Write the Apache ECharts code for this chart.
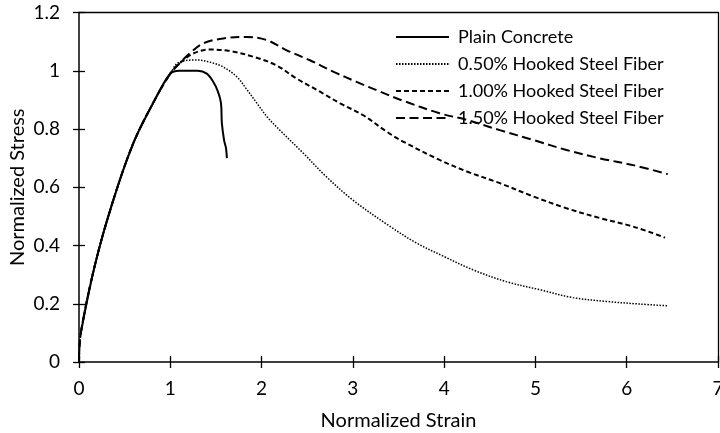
<!DOCTYPE html>
<html>
<head>
<meta charset="utf-8">
<script src="https://cdn.jsdelivr.net/npm/echarts@6/dist/echarts.min.js"></script>
<style>html,body{margin:0;padding:0;background:#fff}#c{width:720px;height:433px}</style>
</head>
<body>
<div id="c"></div>
<script>
var seriesNames = ['Plain Concrete', '0.50% Hooked Steel Fiber', '1.00% Hooked Steel Fiber', '1.50% Hooked Steel Fiber'];

var plainStrain = [0.02, 0.18, 0.38, 0.6, 0.83, 1.0, 1.1, 1.3, 1.4, 1.47, 1.52, 1.555, 1.565, 1.59, 1.61, 1.62];
var plainStress = [0.1, 0.34, 0.56, 0.755, 0.9, 0.99, 1.0, 1.0, 0.99, 0.962, 0.93, 0.89, 0.82, 0.76, 0.735, 0.70];

var f050Strain = [0, 0.02, 0.18, 0.38, 0.6, 0.83, 1.0, 1.1, 1.3, 1.45, 1.58, 1.73, 1.84, 1.95, 2.06, 2.2, 2.46, 2.71, 3.0, 3.41, 3.7, 4.0, 4.32, 4.68, 5.05, 5.41, 5.78, 6.14, 6.45];
var f050Stress = [0, 0.1, 0.34, 0.56, 0.755, 0.9, 0.99, 1.03, 1.037, 1.028, 1.013, 0.979, 0.935, 0.888, 0.842, 0.796, 0.716, 0.636, 0.556, 0.465, 0.408, 0.362, 0.316, 0.276, 0.248, 0.221, 0.208, 0.199, 0.193];

var f100Strain = [0, 0.02, 0.18, 0.38, 0.6, 0.83, 1.0, 1.1, 1.25, 1.43, 1.65, 1.91, 2.16, 2.38, 2.64, 2.86, 3.11, 3.37, 3.55, 3.95, 4.25, 4.61, 4.98, 5.34, 5.71, 6.07, 6.42];
var f100Stress = [0, 0.1, 0.34, 0.56, 0.755, 0.9, 0.99, 1.025, 1.059, 1.073, 1.068, 1.048, 1.019, 0.974, 0.928, 0.888, 0.848, 0.791, 0.757, 0.694, 0.654, 0.614, 0.568, 0.528, 0.494, 0.465, 0.427];

var f150Strain = [0, 0.02, 0.18, 0.38, 0.6, 0.83, 1.0, 1.1, 1.215, 1.36, 1.58, 1.84, 2.06, 2.27, 2.53, 2.79, 3.04, 3.3, 3.55, 3.95, 4.25, 4.61, 4.98, 5.34, 5.71, 6.07, 6.45];
var f150Stress = [0, 0.1, 0.34, 0.56, 0.755, 0.9, 0.99, 1.025, 1.06, 1.094, 1.111, 1.116, 1.105, 1.071, 1.036, 0.996, 0.962, 0.928, 0.897, 0.854, 0.831, 0.796, 0.762, 0.728, 0.699, 0.676, 0.645];

var xTicks = [0, 1, 2, 3, 4, 5, 6, 7];
var yTicks = [0, 0.2, 0.4, 0.6, 0.8, 1, 1.2];

function pairs(xs, ys) { return xs.map(function (x, i) { return [x, ys[i]]; }); }

var FONT = 'Lato';
var FS = 19;
var chart = echarts.init(document.getElementById('c'), null, { renderer: 'canvas' });
var gridBox = { left: 79, right: 2, top: 12.5, bottom: 71, outerBoundsMode: 'none', containLabel: false };
var xMin = xTicks[0], xMax = xTicks[xTicks.length - 1];
var yMin = yTicks[0], yMax = yTicks[yTicks.length - 1];

function mkSeries(name, data, dash, width) {
  return {
    name: name, type: 'line', data: data, xAxisIndex: 0, yAxisIndex: 0,
    showSymbol: false, symbol: 'none', smooth: 0.35, animation: false,
    itemStyle: { color: '#000' },
    lineStyle: { color: '#000', width: width, type: dash }
  };
}
function blankAxis(extra) {
  return Object.assign({
    type: 'value', axisLabel: { show: false }, splitLine: { show: false },
    axisLine: { show: false }, axisTick: { show: false }
  }, extra);
}
var tickStyle = { color: '#000', width: 1.3 };

chart.setOption({
  animation: false,
  grid: [
    Object.assign({ show: false }, gridBox),
    Object.assign({ show: false }, gridBox),
    Object.assign({ show: false }, gridBox)
  ],
  legend: {
    orient: 'vertical', left: 390, top: 22, itemWidth: 53, itemHeight: 14, itemGap: 7,
    data: seriesNames,
    itemStyle: { opacity: 0 },
    textStyle: { fontFamily: FONT, fontSize: 18, color: '#000', lineHeight: 20, padding: [0, 0, 0, 4] }
  },
  xAxis: [
    {
      gridIndex: 0, type: 'value', min: xMin, max: xMax, interval: 1,
      name: 'Normalized Strain', nameLocation: 'middle', nameGap: 49, nameMoveOverlap: false,
      nameTextStyle: { fontFamily: FONT, fontSize: 20, color: '#000' },
      axisLine: { show: true, onZero: false, lineStyle: { color: '#000', width: 1.5 } },
      axisTick: { show: true, inside: false, length: 6, lineStyle: tickStyle },
      axisLabel: { fontFamily: FONT, fontSize: FS, color: '#000', margin: 17 },
      splitLine: { show: false }
    },
    blankAxis({ gridIndex: 1, min: xMin, max: xMax, interval: 1, position: 'bottom',
      axisTick: { show: true, inside: true, length: 6, lineStyle: tickStyle } }),
    blankAxis({ gridIndex: 2, min: xMin, max: xMax, interval: 1, position: 'top',
      axisLine: { show: true, onZero: false, lineStyle: { color: '#000', width: 1.3 } } })
  ],
  yAxis: [
    {
      gridIndex: 0, type: 'value', min: yMin, max: yMax, interval: 0.2,
      name: 'Normalized Stress', nameLocation: 'middle', nameGap: 51, nameMoveOverlap: false,
      nameTextStyle: { fontFamily: FONT, fontSize: 20, color: '#000' },
      axisLine: { show: true, onZero: false, lineStyle: { color: '#000', width: 1.5 } },
      axisTick: { show: true, inside: false, length: 6, lineStyle: tickStyle },
      axisLabel: { fontFamily: FONT, fontSize: FS, color: '#000', margin: 19 },
      splitLine: { show: false }
    },
    blankAxis({ gridIndex: 1, min: yMin, max: yMax, interval: 0.2, position: 'left',
      axisTick: { show: true, inside: true, length: 6, lineStyle: tickStyle } }),
    blankAxis({ gridIndex: 2, min: yMin, max: yMax, interval: 0.2, position: 'right',
      axisLine: { show: true, onZero: false, lineStyle: { color: '#000', width: 1.3 } } })
  ],
  series: [
    mkSeries(seriesNames[0], pairs(plainStrain, plainStress), 'solid', 2),
    mkSeries(seriesNames[1], pairs(f050Strain, f050Stress), [1.5, 1.5], 1.5),
    mkSeries(seriesNames[2], pairs(f100Strain, f100Stress), [5, 3], 2),
    mkSeries(seriesNames[3], pairs(f150Strain, f150Stress), [9, 4.5], 2)
  ]
});
</script>
</body>
</html>
